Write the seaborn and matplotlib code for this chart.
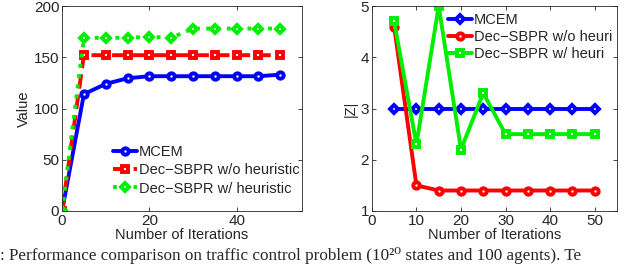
import numpy as np
import pandas as pd
import matplotlib
matplotlib.use("Agg")
import matplotlib.pyplot as plt
import seaborn as sns

# values
iters_left = [0, 5, 10, 15, 20, 25, 30, 35, 40, 45, 50]
value_mcem = [0, 114, 124, 129.5, 131.5, 131.5, 131.5, 131.5, 131.5, 131.5, 133]
value_noheur = [0, 152, 152, 152, 152, 152, 152, 152, 152, 152, 152]
value_heur = [0, 169, 169, 169, 170, 169, 178, 178, 178, 178, 178]

iters_right = [5, 10, 15, 20, 25, 30, 35, 40, 45, 50]
z_mcem = [3, 3, 3, 3, 3, 3, 3, 3, 3, 3]
z_noheur = [4.6, 1.5, 1.4, 1.4, 1.4, 1.4, 1.4, 1.4, 1.4, 1.4]
z_heur = [4.7, 2.3, 5.0, 2.2, 3.3, 2.5, 2.5, 2.5, 2.5, 2.5]

labels_left = ["MCEM", "Dec\u2212SBPR w/o heuristic", "Dec\u2212SBPR w/ heuristic"]
labels_right = ["MCEM", "Dec\u2212SBPR w/o heuri", "Dec\u2212SBPR w/ heuri"]

blue, red, green = "#0000ff", "#ff0000", "#00ee00"

sns.set_style("ticks")
plt.rcParams["font.family"] = ["Liberation Sans", "DejaVu Sans"]
plt.rcParams["font.size"] = 10.5

fig = plt.figure(figsize=(6.4, 2.64), dpi=100)
ax1 = fig.add_axes([0.097, 53 / 264, 0.375, 205 / 264])
ax2 = fig.add_axes([0.581, 53 / 264, 0.383, 205 / 264])

msize = {"o": 4.6, "s": 4.4, "D": 4.0}

# left panel
left_styles = [(value_mcem, blue, "-", "o"), (value_noheur, red, "--", "s"), (value_heur, green, ":", "D")]
for (vals, col, ls, mk), lab in zip(left_styles, labels_left):
    sns.lineplot(x=iters_left, y=vals, ax=ax1, color=col, linestyle=ls, linewidth=2.8,
                 marker=mk, markersize=msize[mk], markeredgewidth=2.8,
                 markeredgecolor=col, markerfacecolor="white", label=lab)
ax1.set_xlim(0, 55)
ax1.set_ylim(0, 200)
ax1.set_xticks([0, 20, 40])
ax1.set_yticks([0, 50, 100, 150, 200])
ax1.set_xlabel("Number of Iterations", labelpad=0)
ax1.set_ylabel("Value", labelpad=2)
ax1.legend(loc="lower right", bbox_to_anchor=(1.02, 0.04), frameon=False, handlelength=1.6,
           handletextpad=0.15, labelspacing=0.3, borderaxespad=0.1, fontsize=10.5)

# right panel
right_styles = [(z_mcem, blue, "D"), (z_noheur, red, "o"), (z_heur, green, "s")]
for (vals, col, mk), lab in zip(right_styles, labels_right):
    sns.lineplot(x=iters_right, y=vals, ax=ax2, color=col, linestyle="-", linewidth=2.8,
                 marker=mk, markersize=msize[mk], markeredgewidth=2.8,
                 markeredgecolor=col, markerfacecolor="white", label=lab)
ax2.set_xlim(0, 55)
ax2.set_ylim(1, 5)
ax2.set_xticks([0, 10, 20, 30, 40, 50])
ax2.set_yticks([1, 2, 3, 4, 5])
ax2.set_xlabel("Number of Iterations", labelpad=0)
ax2.set_ylabel("|Z|", labelpad=2)
ax2.legend(loc="upper right", bbox_to_anchor=(1.01, 1.0), frameon=False, handlelength=1.6,
           handletextpad=0.15, labelspacing=0.2, borderaxespad=0.1, fontsize=10.5)

for ax in (ax1, ax2):
    ax.tick_params(direction="in", top=True, right=True, length=3, width=0.6, pad=2, labelsize=11)
    for sp in ax.spines.values():
        sp.set_visible(True)
        sp.set_linewidth(0.6)

fig.text(0.0, 3.8 / 264, ": Performance comparison on traffic control problem (10\u00b2\u2070 states and 100 agents). Te",
         family=["Liberation Serif", "DejaVu Serif"], fontsize=12.3, ha="left", va="baseline")

fig.savefig("out.png", dpi=100)
